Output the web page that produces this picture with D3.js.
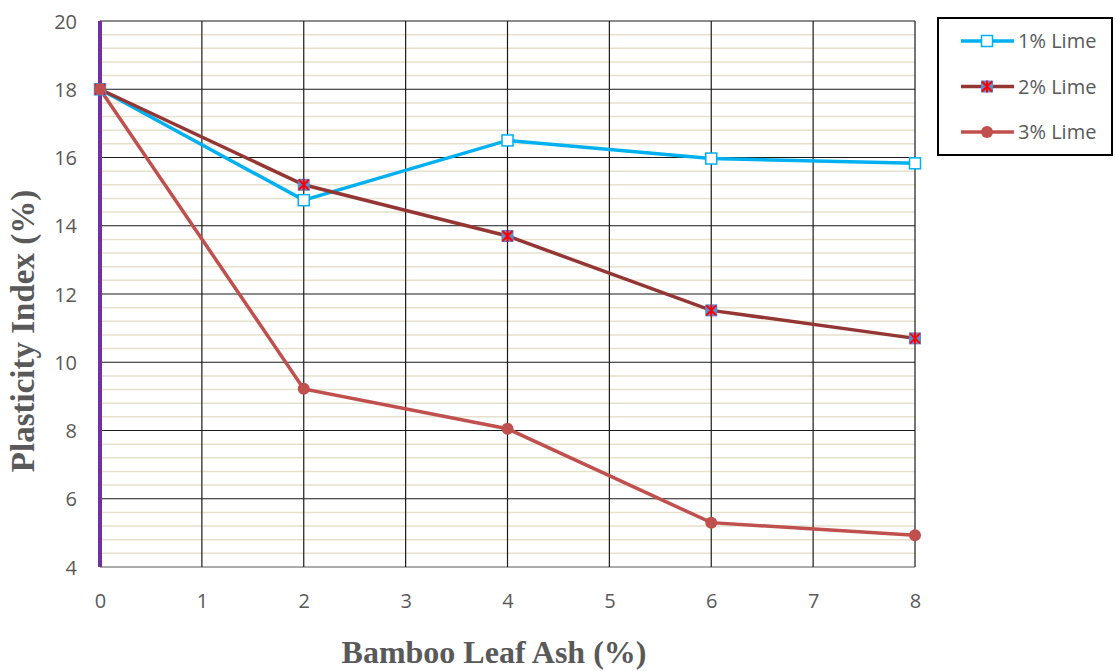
<!DOCTYPE html>
<html>
<head>
<meta charset="utf-8">
<script src="https://cdn.jsdelivr.net/npm/d3@7/dist/d3.min.js"></script>
<style>
  body { margin: 0; background: #fff; }
  svg { display: block; }
</style>
</head>
<body>
<div id="chart"></div>
<script>
let width = 1115
let height = 671

// data
let ashPct = [0, 2, 4, 6, 8]
let lime1 = [18, 14.75, 16.5, 15.97, 15.83]
let lime2 = [18, 15.2, 13.7, 11.52, 10.7]
let lime3 = [18, 9.22, 8.05, 5.3, 4.93]
let seriesNames = ['1% Lime', '2% Lime', '3% Lime']
let xTicks = [0, 1, 2, 3, 4, 5, 6, 7, 8]
let yTicks = [4, 6, 8, 10, 12, 14, 16, 18, 20]

let margin = { left: 100, right: 200, top: 21, bottom: 104 }

let svg = d3.select('#chart')
            .append('svg')
            .attr('width', width)
            .attr('height', height)

let x = d3.scaleLinear().domain([0, 8]).range([margin.left, width - margin.right])
let y = d3.scaleLinear().domain([4, 20]).range([height - margin.bottom, margin.top])

// minor horizontal grid, every 0.4
let minor = d3.range(4, 20.001, 0.4).filter(v => Math.abs(v / 2 - Math.round(v / 2)) > 0.01)
svg.append('g')
   .selectAll('line')
   .data(minor)
   .enter()
   .append('line')
   .attr('x1', x(0))
   .attr('x2', x(8))
   .attr('y1', d => y(d))
   .attr('y2', d => y(d))
   .style('stroke', '#e6e1cc')
   .style('stroke-width', 1.5)

// major grid
svg.append('g')
   .selectAll('line')
   .data(yTicks)
   .enter()
   .append('line')
   .attr('x1', x(0))
   .attr('x2', x(8))
   .attr('y1', d => y(d))
   .attr('y2', d => y(d))
   .style('stroke', d => d === 4 ? '#595959' : '#1a1a1a')
   .style('stroke-width', 1.2)

svg.append('g')
   .selectAll('line')
   .data(xTicks.slice(1))
   .enter()
   .append('line')
   .attr('x1', d => x(d))
   .attr('x2', d => x(d))
   .attr('y1', y(4))
   .attr('y2', y(20))
   .style('stroke', '#1a1a1a')
   .style('stroke-width', 1.2)

// purple left axis
svg.append('line')
   .attr('x1', x(0))
   .attr('x2', x(0))
   .attr('y1', y(4))
   .attr('y2', y(20))
   .style('stroke', '#7030a0')
   .style('stroke-width', 4)

// tick labels
svg.append('g')
   .attr('transform', 'translate(0,' + (y(4) + 24) + ')')
   .call(d3.axisBottom(x).tickValues(xTicks).tickSize(0).tickFormat(d3.format('d')))
   .call(g => g.select('.domain').remove())
   .selectAll('text')
   .style('font-family', 'Open Sans, sans-serif')
   .style('font-size', '20px')
   .style('fill', '#595959')

svg.append('g')
   .attr('transform', 'translate(' + (x(0) - 20) + ',0)')
   .call(d3.axisLeft(y).tickValues(yTicks).tickSize(0).tickFormat(d3.format('d')))
   .call(g => g.select('.domain').remove())
   .selectAll('text')
   .attr('dy', '0.35em')
   .style('font-family', 'Open Sans, sans-serif')
   .style('font-size', '20px')
   .style('fill', '#595959')

// axis titles
svg.append('text')
   .attr('x', 494)
   .attr('y', 663)
   .attr('text-anchor', 'middle')
   .style('font-family', 'Liberation Serif, serif')
   .style('font-weight', 'bold')
   .style('font-size', '32px')
   .style('fill', '#595959')
   .text('Bamboo Leaf Ash (%)')

svg.append('text')
   .attr('transform', 'translate(34,331) rotate(-90)')
   .attr('text-anchor', 'middle')
   .style('font-family', 'Liberation Serif, serif')
   .style('font-weight', 'bold')
   .style('font-size', '33px')
   .style('fill', '#595959')
   .text('Plasticity Index (%)')

let series = [
  { name: seriesNames[0], values: lime1, color: '#00b0f0', marker: 'square' },
  { name: seriesNames[1], values: lime2, color: '#943634', marker: 'star' },
  { name: seriesNames[2], values: lime3, color: '#c0504d', marker: 'circle' }
]

let line = d3.line()
             .x((d, i) => x(ashPct[i]))
             .y(d => y(d))

function drawMarker(g, kind, color) {
  if (kind === 'square') {
    g.append('rect')
     .attr('x', -5.5).attr('y', -5.5)
     .attr('width', 11).attr('height', 11)
     .style('fill', '#fff')
     .style('stroke', color)
     .style('stroke-width', 1.5)
  } else if (kind === 'star') {
    g.append('rect')
     .attr('x', -6).attr('y', -6)
     .attr('width', 12).attr('height', 12)
     .style('fill', '#5b8bd0')
    g.append('path')
     .attr('d', 'M-5,-5L5,5M5,-5L-5,5M0,-6L0,6')
     .style('stroke', '#ff0000')
     .style('stroke-width', 2)
  } else {
    g.append('circle')
     .attr('r', 6)
     .style('fill', color)
  }
}

series.forEach(function (s) {
  svg.append('path')
     .datum(s.values)
     .attr('d', line)
     .style('fill', 'none')
     .style('stroke', s.color)
     .style('stroke-width', 3.5)
})

series.forEach(function (s) {
  s.values.forEach(function (v, i) {
    let g = svg.append('g')
               .attr('transform', 'translate(' + x(ashPct[i]) + ',' + y(v) + ')')
    drawMarker(g, s.marker, s.color)
  })
})

// legend
svg.append('rect')
   .attr('x', 938).attr('y', 18)
   .attr('width', 174).attr('height', 137)
   .style('fill', '#fff')
   .style('stroke', '#000')
   .style('stroke-width', 2)

series.forEach(function (s, i) {
  let ly = 41 + i * 45.5
  let g = svg.append('g').attr('transform', 'translate(0,' + ly + ')')
  g.append('line')
   .attr('x1', 961).attr('x2', 1014)
   .attr('y1', 0).attr('y2', 0)
   .style('stroke', s.color)
   .style('stroke-width', 3.5)
  let m = g.append('g').attr('transform', 'translate(987,0)')
  drawMarker(m, s.marker, s.color)
  g.append('text')
   .attr('x', 1018)
   .attr('y', 0)
   .attr('dy', '0.35em')
   .style('font-family', 'Open Sans, sans-serif')
   .style('font-size', '20px')
   .style('fill', '#595959')
   .text(s.name)
})
</script>
</body>
</html>
